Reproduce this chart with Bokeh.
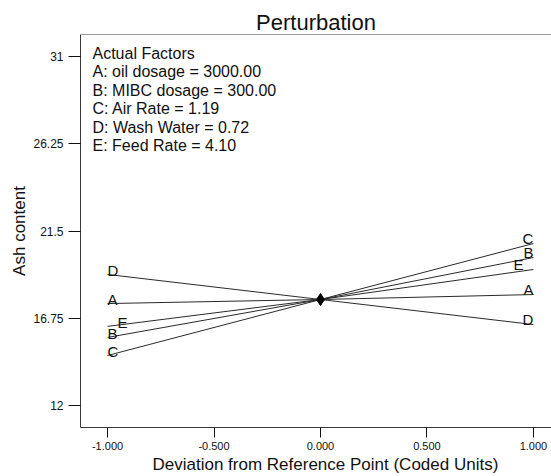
from bokeh.plotting import figure
from bokeh.models import FixedTicker, Range1d, Span, Label, Title
from bokeh.embed import file_html
from bokeh.resources import INLINE
from bokeh.core.properties import value

# ---- data ----
factors = ["A", "B", "C", "D", "E"]
deviation = [-1.0, 0.0, 1.0]
ash_A = [17.56, 17.78, 18.05]
ash_B = [15.72, 17.78, 20.06]
ash_C = [14.74, 17.78, 20.82]
ash_D = [19.14, 17.78, 16.42]
ash_E = [16.32, 17.78, 19.41]
ref_x = [0.0]
ref_y = [17.78]

x_ticks = [-1.0, -0.5, 0.0, 0.5, 1.0]
x_tick_labels = ["-1.000", "-0.500", "0.000", "0.500", "1.000"]
y_ticks = [12, 16.75, 21.5, 26.25, 31]
y_tick_labels = ["12", "16.75", "21.5", "26.25", "31"]

actual_factors = [
    "Actual Factors",
    "A: oil dosage = 3000.00",
    "B: MIBC dosage = 300.00",
    "C: Air Rate = 1.19",
    "D: Wash Water = 0.72",
    "E: Feed Rate = 4.10",
]

series = {"A": ash_A, "B": ash_B, "C": ash_C, "D": ash_D, "E": ash_E}

FONT = "Liberation Sans"
INK = "#111111"
AXIS = "#3a3a3a"

p = figure(
    width=551, height=476,
    x_range=Range1d(-1.127, 1.085), y_range=Range1d(10.83, 32.17),
    output_backend="svg", toolbar_location=None,
    min_border_left=80, min_border_right=0, min_border_top=34, min_border_bottom=49,
)
p.background_fill_color = "white"
p.border_fill_color = "white"
p.outline_line_color = None
p.xgrid.visible = False
p.ygrid.visible = False

# title
p.title.text = "Perturbation"
p.title.align = "center"
p.title.text_font = FONT
p.title.text_font_size = "22px"
p.title.text_font_style = "normal"
p.title.text_color = INK
p.title.standoff = 0

# x axis
xa = p.xaxis[0]
xa.ticker = FixedTicker(ticks=x_ticks)
xa.major_label_overrides = {t: l for t, l in zip(x_ticks, x_tick_labels)}
xa.minor_tick_line_color = None
xa.major_tick_in = 0
xa.major_tick_out = 10
xa.major_label_standoff = 4
xa.major_label_text_font = FONT
xa.major_label_text_font_size = "11px"
xa.major_label_text_color = INK
xa.axis_line_color = AXIS
xa.major_tick_line_color = INK

# x axis title, shifted right like the reference
xtitle = Title(text="Deviation from Reference Point (Coded Units)", align="left",
               offset=72, standoff=1, text_font=FONT, text_font_size="17px",
               text_font_style="normal", text_color=INK)
p.add_layout(xtitle, "below")

# y axis
ya = p.yaxis[0]
ya.ticker = FixedTicker(ticks=y_ticks)
ya.major_label_overrides = {t: l for t, l in zip(y_ticks, y_tick_labels)}
ya.minor_tick_line_color = None
ya.major_tick_in = 0
ya.major_tick_out = 12
ya.major_label_standoff = 5
ya.major_label_text_font = FONT
ya.major_label_text_font_size = "12px"
ya.major_label_text_color = INK
ya.axis_label = "Ash content"
ya.axis_label_text_font = FONT
ya.axis_label_text_font_size = "17px"
ya.axis_label_text_font_style = "normal"
ya.axis_label_text_color = INK
ya.axis_label_standoff = 1
ya.axis_line_color = AXIS
ya.major_tick_line_color = INK

# top border of the frame
p.add_layout(Span(location=p.y_range.end, dimension="width", line_color=AXIS, line_width=1))

# perturbation lines and their letters
for f in factors:
    vals = series[f]
    p.line(deviation, vals, line_color="#2a2a2a", line_width=1)
    off = 10 if f == "E" else 0
    p.text(x=[deviation[0]], y=[vals[0]], text=[f], text_align="left",
           text_baseline="alphabetic", x_offset=off, y_offset=-4,
           text_font=value(FONT), text_font_size="15px", text_color=INK)
    p.text(x=[deviation[-1]], y=[vals[-1]], text=[f], text_align="right",
           text_baseline="alphabetic", x_offset=-off, y_offset=-5,
           text_font=value(FONT), text_font_size="15px", text_color=INK)

# reference point
p.scatter(ref_x, ref_y, marker="diamond", size=12, color="black")

# actual-factors block (screen units inside the frame)
frame_h = 476 - 34 - 49
for i, line in enumerate(actual_factors):
    p.add_layout(Label(x=12, y=frame_h - 19 - 18.4 * i, x_units="screen", y_units="screen",
                       text=line, text_font=FONT, text_font_size="16px",
                       text_baseline="middle", text_align="left", text_color=INK))

open("out.html", "w").write(file_html(p, INLINE))
